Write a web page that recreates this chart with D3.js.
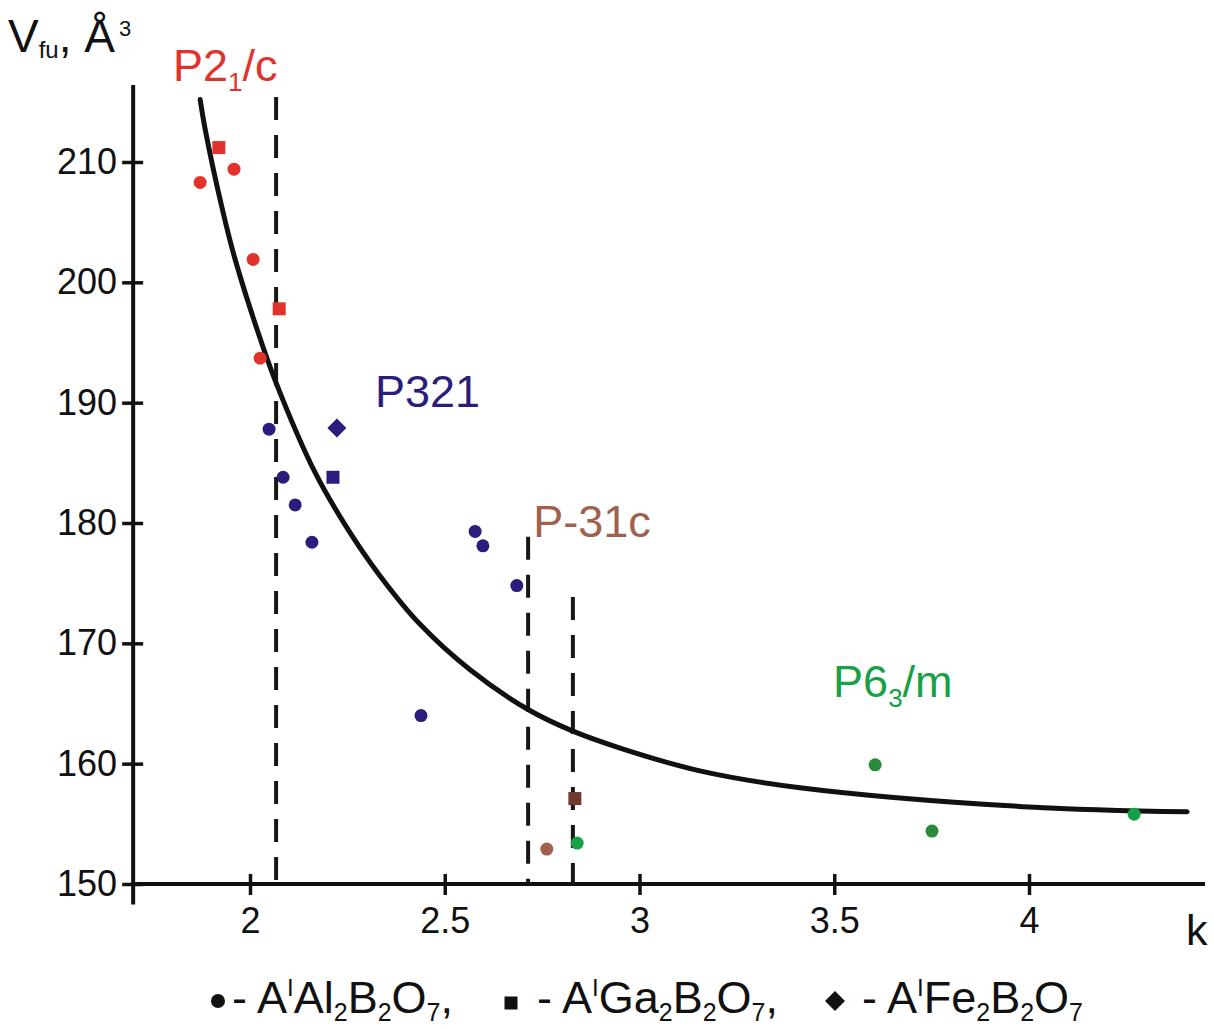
<!DOCTYPE html>
<html>
<head>
<meta charset="utf-8">
<script src="https://cdn.jsdelivr.net/npm/d3@7"></script>
<style>
  body { margin: 0; background: #fff; }
  svg { display: block; font-family: "Liberation Sans", Arial, sans-serif; }
</style>
</head>
<body>
<div id="chart-container"></div>
<script>
// fitted curve
const curveK = [1.872, 1.885, 1.931, 1.961, 2.018, 2.064, 2.167, 2.249, 2.334, 2.436, 2.565, 2.714, 2.829, 2.95, 3.155, 3.412, 4.0, 4.406];
const curveV = [215.2, 212.7, 205.8, 202.0, 196.1, 191.9, 184.2, 179.6, 175.6, 171.6, 167.8, 164.5, 162.7, 161.3, 159.4, 158.0, 156.4, 156.0];

// phase boundaries (dashed)
const boundaryK = [2.067, 2.714, 2.829];
const boundaryTop = [215.4, 178.85, 173.85];

// points [k, V]
const p21cAl = [[1.872, 208.3], [1.959, 209.4], [2.008, 201.9], [2.026, 193.7]];
const p21cGa = [[1.920, 211.2], [2.075, 197.8]];
const p321Al = [[2.049, 187.8], [2.085, 183.8], [2.116, 181.5], [2.159, 178.4], [2.439, 164.0], [2.578, 179.3], [2.598, 178.1], [2.685, 174.8]];
const p321Ga = [[2.213, 183.8]];
const p321Fe = [[2.223, 187.9]];
const p31cAl = [[2.762, 152.9]];
const p31cGa = [[2.834, 157.1]];
const p63mAl = [[2.840, 153.4], [3.605, 159.9], [3.751, 154.4], [4.270, 155.8]];

const xTicks = [2, 2.5, 3, 3.5, 4];
const xTickLabels = ["2", "2.5", "3", "3.5", "4"];
const yTicks = [150, 160, 170, 180, 190, 200, 210];

const colRed = "#e2322c";
const colBlue = "#2b1d7c";
const colBrown = "#a0604c";
const colBrownDark = "#6e3a30";
const colGreen = "#17a046";
const colGreenDark = "#2a8a3c";

const width = 1214;
const height = 1029;

const x = d3.scaleLinear().domain([2, 4]).range([250, 1029]);
const y = d3.scaleLinear().domain([150, 210]).range([884, 162]);

const svg = d3
  .select("#chart-container")
  .append("svg")
  .attr("width", width)
  .attr("height", height);

//Axes lines
svg
  .append("line")
  .attr("x1", x(1.70))
  .attr("x2", x(1.70))
  .attr("y1", y(216.4))
  .attr("y2", y(148.3))
  .attr("stroke", "#111")
  .attr("stroke-width", 4);

svg
  .append("line")
  .attr("x1", x(1.70))
  .attr("x2", x(4.452))
  .attr("y1", y(150))
  .attr("y2", y(150))
  .attr("stroke", "#111")
  .attr("stroke-width", 4);

//y axis ticks
svg
  .append("g")
  .attr("transform", `translate(${x(1.70)}, 0)`)
  .style("font-size", "36px")
  .call(d3.axisLeft(y).tickValues(yTicks).tickSize(11).tickPadding(5))
  .call((g) => g.select(".domain").remove())
  .call((g) => g.selectAll(".tick line").attr("x2", -11).attr("x1", 10).attr("stroke", "#111").attr("stroke-width", 3.5))
  .call((g) => g.selectAll(".tick text").attr("fill", "#111").attr("font-family", "Liberation Sans, Arial, sans-serif"));

//x axis ticks
svg
  .append("g")
  .attr("transform", `translate(0, ${y(150)})`)
  .style("font-size", "36px")
  .call(
    d3.axisBottom(x)
      .tickValues(xTicks)
      .tickFormat((d, i) => xTickLabels[i])
      .tickSize(11)
      .tickPadding(12)
  )
  .call((g) => g.select(".domain").remove())
  .call((g) => g.selectAll(".tick line").attr("y1", -10).attr("stroke", "#111").attr("stroke-width", 3.5))
  .call((g) => g.selectAll(".tick text").attr("fill", "#111").attr("font-family", "Liberation Sans, Arial, sans-serif"));

//Dashed phase boundaries
svg
  .selectAll("line.boundary")
  .data(boundaryK)
  .join("line")
  .attr("class", "boundary")
  .attr("x1", (d) => x(d))
  .attr("x2", (d) => x(d))
  .attr("y1", (d, i) => y(boundaryTop[i]))
  .attr("y2", y(150))
  .attr("stroke", "#1a1614")
  .attr("stroke-width", 4)
  .attr("stroke-dasharray", "23 15");

//Curve
const line = d3
  .line()
  .x((d) => x(d))
  .y((d, i) => y(curveV[i]))
  .curve(d3.curveCatmullRom.alpha(0.5));

svg
  .append("path")
  .datum(curveK)
  .attr("fill", "none")
  .attr("stroke", "#111")
  .attr("stroke-width", 5)
  .attr("stroke-linecap", "round")
  .attr("d", line);

//Markers
function circles(data, color) {
  svg
    .append("g")
    .selectAll("circle")
    .data(data)
    .join("circle")
    .attr("cx", (d) => x(d[0]))
    .attr("cy", (d) => y(d[1]))
    .attr("r", 6.5)
    .attr("fill", color);
}

function squares(data, color) {
  svg
    .append("g")
    .selectAll("rect")
    .data(data)
    .join("rect")
    .attr("x", (d) => x(d[0]) - 6.5)
    .attr("y", (d) => y(d[1]) - 6.5)
    .attr("width", 13)
    .attr("height", 13)
    .attr("fill", color);
}

function diamonds(data, color) {
  svg
    .append("g")
    .selectAll("path")
    .data(data)
    .join("path")
    .attr("transform", (d) => `translate(${x(d[0])}, ${y(d[1])})`)
    .attr("d", "M0,-9.5L9.5,0L0,9.5L-9.5,0Z")
    .attr("fill", color);
}

circles(p21cAl, colRed);
squares(p21cGa, colRed);
circles(p321Al, colBlue);
squares(p321Ga, colBlue);
diamonds(p321Fe, colBlue);
circles(p31cAl, colBrown);
squares(p31cGa, colBrownDark);
circles(p63mAl.slice(0, 1), colGreen);
circles(p63mAl.slice(1, 3), colGreenDark);
circles(p63mAl.slice(3), colGreen);

//Phase labels
function label(k, v, color, parts) {
  const t = svg
    .append("text")
    .attr("x", x(k))
    .attr("y", y(v))
    .attr("fill", color)
    .style("font-size", "45px");
  parts.forEach((p) => {
    const s = t.append("tspan").text(p[0]);
    if (p[1] === "sub") s.style("font-size", "26px").attr("dy", 10);
    if (p[1] === "back") s.attr("dy", -10);
  });
}

label(1.802, 216.7, colRed, [["P2"], ["1", "sub"], ["/c", "back"]]);
label(2.321, 189.6, colBlue, [["P321"]]);
label(2.727, 178.8, colBrown, [["P-31c"]]);
label(3.497, 165.5, colGreen, [["P6"], ["3", "sub"], ["/m", "back"]]);

//Axis titles
const yTitle = svg
  .append("text")
  .attr("x", 8)
  .attr("y", 52)
  .attr("fill", "#111")
  .style("font-size", "46px");
yTitle.append("tspan").text("V");
yTitle.append("tspan").text("fu").style("font-size", "24px").attr("dy", 6);
yTitle.append("tspan").text(", Å").attr("dy", -6);
yTitle.append("tspan").text("3").style("font-size", "22px").attr("dy", -16).attr("dx", 4);

svg
  .append("text")
  .attr("x", 1186)
  .attr("y", 945)
  .attr("fill", "#111")
  .style("font-size", "43px")
  .text("k");

//Legend
const legendItems = [
  { shape: "circle", cx: 218, tx: 232, metal: "Al", tail: "," },
  { shape: "square", cx: 511, tx: 537, metal: "Ga", tail: "," },
  { shape: "diamond", cx: 835, tx: 862, metal: "Fe", tail: "" },
];
const legendY = 1001;

legendItems.forEach((d) => {
  if (d.shape === "circle") {
    svg.append("circle").attr("cx", d.cx).attr("cy", legendY).attr("r", 7).attr("fill", "#111");
  } else if (d.shape === "square") {
    svg.append("rect").attr("x", d.cx - 6.5).attr("y", legendY - 4.5).attr("width", 13).attr("height", 13).attr("fill", "#111");
  } else {
    svg.append("path").attr("transform", `translate(${d.cx}, ${legendY})`).attr("d", "M0,-10L10,0L0,10L-10,0Z").attr("fill", "#111");
  }
  const t = svg
    .append("text")
    .attr("x", d.tx)
    .attr("y", 1013)
    .attr("fill", "#111")
    .style("font-size", "45px");
  t.append("tspan").text("- A");
  t.append("tspan").text("I").style("font-size", "24px").attr("dy", -17);
  t.append("tspan").text(d.metal).attr("dy", 17);
  t.append("tspan").text("2").style("font-size", "25px").attr("dy", 8);
  t.append("tspan").text("B").attr("dy", -8);
  t.append("tspan").text("2").style("font-size", "25px").attr("dy", 8);
  t.append("tspan").text("O").attr("dy", -8);
  t.append("tspan").text("7").style("font-size", "25px").attr("dy", 8);
  t.append("tspan").text(d.tail).attr("dy", -8);
});
</script>
</body>
</html>
